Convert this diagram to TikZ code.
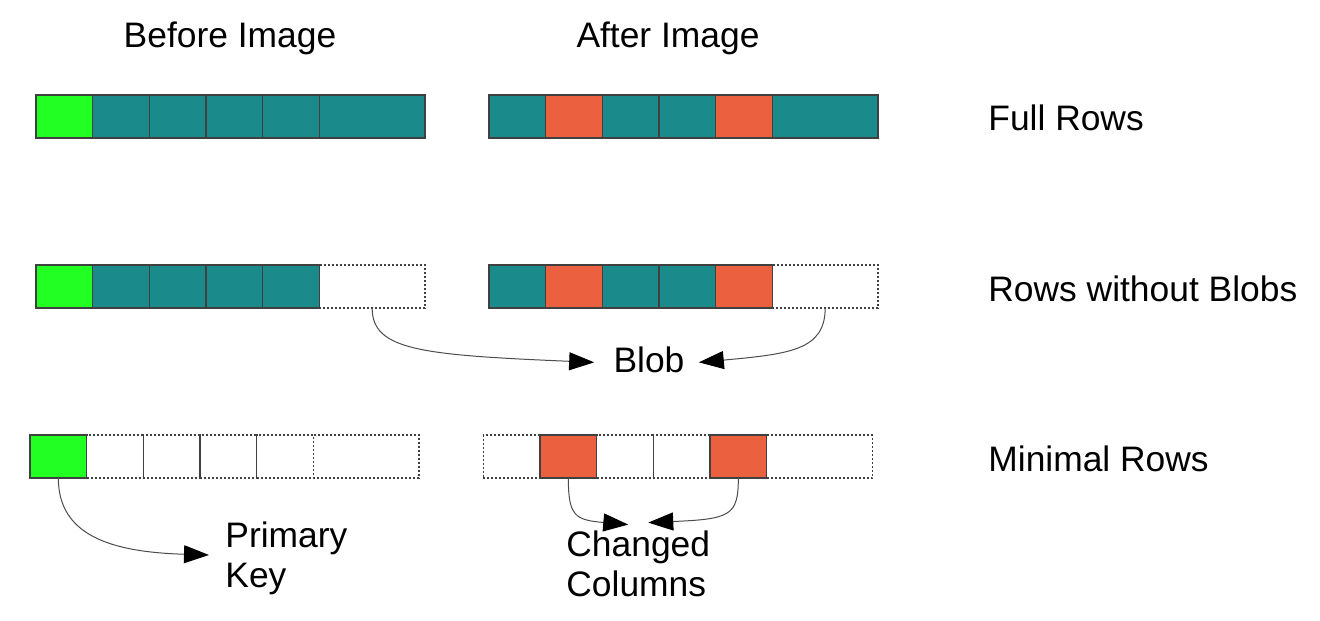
\documentclass[tikz,border=0pt]{standalone}
\usepackage{fontspec}
\setmainfont{Liberation Sans}
\usetikzlibrary{arrows.meta,calc}
\definecolor{pkgreen}{HTML}{22FF22}
\definecolor{tealc}{HTML}{1A8A8A}
\definecolor{orng}{HTML}{EB6140}
\tikzset{
  cellbase/.style={rectangle, anchor=north west, inner sep=0pt, outer sep=0pt, minimum height=21.5pt, line width=0.6pt},
  narrowcell/.style={minimum width=28.33pt},
  widecell/.style={minimum width=52.83pt},
  greencell/.style={cellbase, fill=pkgreen, draw=black!75},
  tealcell/.style={cellbase, fill=tealc, draw=black!75},
  orangecell/.style={cellbase, fill=orng, draw=black!75},
  emptycell/.style={cellbase, draw=black!75, dash pattern=on 1pt off 1pt},
  lbl/.style={font=\fontsize{17.7}{20}\selectfont, inner sep=0pt, text=black},
  conn/.style={draw=black!70, line width=0.5pt, -{Triangle[length=12.5pt,width=9pt,color=black]}},
}
\begin{document}
\begin{tikzpicture}[x=0.5pt,y=-0.5pt]
\path[use as bounding box] (0,0) rectangle (1320,620);

% headings
\node[lbl, anchor=base] (before) at (230,48) {Before Image};
\node[lbl, anchor=base] (after) at (668,48) {After Image};
\node[lbl, anchor=base west] (full) at (988,131) {Full Rows};
\node[lbl, anchor=base west] (noblob) at (988,301) {Rows without Blobs};
\node[lbl, anchor=base west] (minimal) at (988,471) {Minimal Rows};

% row 1 left
\node[greencell,narrowcell] (a1) at (36,95) {};
\node[tealcell,narrowcell] (a2) at (92.67,95) {};
\node[tealcell,narrowcell] (a3) at (149.33,95) {};
\node[tealcell,narrowcell] (a4) at (206,95) {};
\node[tealcell,narrowcell] (a5) at (262.67,95) {};
\node[tealcell,widecell] (a6) at (319.33,95) {};
% row 1 right
\node[tealcell,narrowcell] (b1) at (489,95) {};
\node[orangecell,narrowcell] (b2) at (545.67,95) {};
\node[tealcell,narrowcell] (b3) at (602.33,95) {};
\node[tealcell,narrowcell] (b4) at (659,95) {};
\node[orangecell,narrowcell] (b5) at (715.67,95) {};
\node[tealcell,widecell] (b6) at (772.33,95) {};

% row 2 left
\node[greencell,narrowcell] (c1) at (36,265) {};
\node[tealcell,narrowcell] (c2) at (92.67,265) {};
\node[tealcell,narrowcell] (c3) at (149.33,265) {};
\node[tealcell,narrowcell] (c4) at (206,265) {};
\node[tealcell,narrowcell] (c5) at (262.67,265) {};
\node[emptycell,widecell] (c6) at (319.33,265) {};
% row 2 right
\node[tealcell,narrowcell] (d1) at (489,265) {};
\node[orangecell,narrowcell] (d2) at (545.67,265) {};
\node[tealcell,narrowcell] (d3) at (602.33,265) {};
\node[tealcell,narrowcell] (d4) at (659,265) {};
\node[orangecell,narrowcell] (d5) at (715.67,265) {};
\node[emptycell,widecell] (d6) at (772.33,265) {};

% row 3 left
\node[greencell,narrowcell] (e1) at (30,435) {};
\node[emptycell,narrowcell] (e2) at (86.67,435) {};
\node[emptycell,narrowcell] (e3) at (143.33,435) {};
\node[emptycell,narrowcell] (e4) at (200,435) {};
\node[emptycell,narrowcell] (e5) at (256.67,435) {};
\node[emptycell,widecell] (e6) at (313.33,435) {};
% row 3 right
\node[orangecell,narrowcell] (f2) at (540,435) {};
\node[orangecell,narrowcell] (f5) at (710,435) {};
\node[emptycell,narrowcell] (f1) at (483.33,435) {};
\node[emptycell,narrowcell] (f3) at (596.67,435) {};
\node[emptycell,narrowcell] (f4) at (653.33,435) {};
\node[emptycell,widecell] (f6) at (766.67,435) {};

% labels with arrows
\node[lbl, anchor=base] (blob) at (649,372) {Blob};
\node[lbl, anchor=west, align=left] (pkey) at (225,558) {Primary\\Key};
\node[lbl, anchor=west, align=left] (chcols) at (566,564) {Changed\\Columns};

\coordinate (blobL) at ($(blob.west)+(-19,3)$);
\coordinate (blobR) at ($(blob.east)+(14,3)$);
\coordinate (pkT) at ($(pkey.west)+(-16,-3)$);
\coordinate (ccL) at ($(chcols.north)+(-10,-6)$);
\coordinate (ccR) at ($(chcols.north)+(10,-8)$);

\draw[conn] (c6.south) .. controls ($(c6.south)+(0,42)$) and (420,355) .. (blobL);
\draw[conn] (d6.south) .. controls ($(d6.south)+(0,42)$) and (790,354) .. (blobR);
\draw[conn] (e1.south) .. controls ($(e1.south)+(0,57)$) and (110,552) .. (pkT);
\draw[conn] (f2.south) .. controls ($(f2.south)+(0,38)$) and (575,520) .. (ccL);
\draw[conn] (f5.south) .. controls ($(f5.south)+(0,38)$) and (730,519) .. (ccR);
\end{tikzpicture}
\end{document}
